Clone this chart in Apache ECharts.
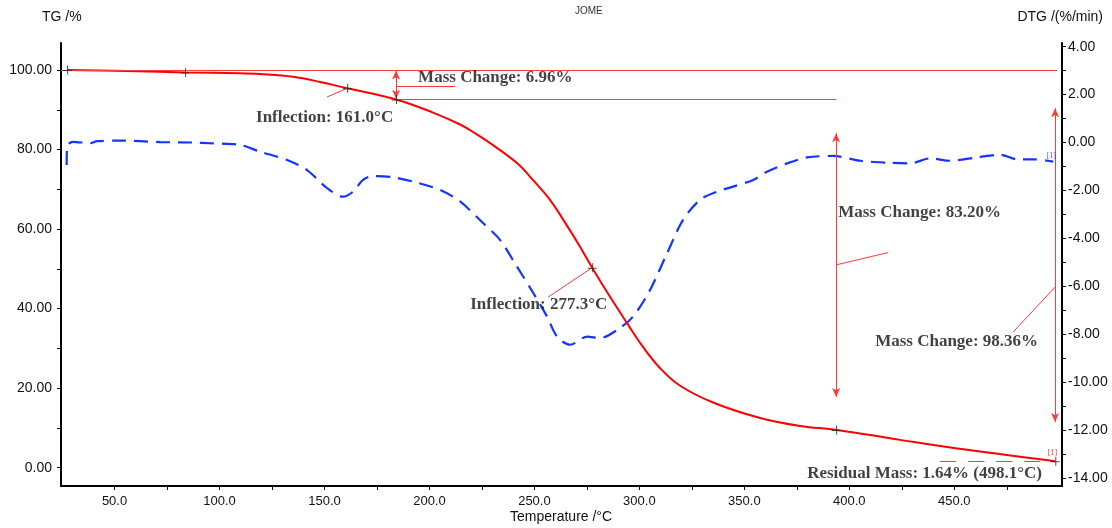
<!DOCTYPE html>
<html><head><meta charset="utf-8">
<script src="https://cdn.jsdelivr.net/npm/echarts@6/dist/echarts.min.js"></script>
<style>html,body{margin:0;padding:0;background:#fff}#c{width:1112px;height:528px}</style>
</head><body><div id="c"></div>
<script>
// ---- data ----
const tempTG = [27.4, 50.0, 83.6, 109.8, 119.3, 135.0, 147.9, 160.8, 184.1, 201.7, 214.6, 222.0, 230.3, 241.7, 249.4, 257.5, 265.6, 271.8, 277.5, 286.1, 294.2, 301.8, 309.9, 319.4, 335.1, 357.5, 376.6, 394.2, 424.2, 456.1, 498.1];
const massTG = [100.0, 99.8, 99.4, 99.2, 99.0, 98.3, 97.0, 95.4, 92.6, 89.3, 86.3, 84.0, 81.1, 76.6, 72.3, 67.3, 60.8, 55.5, 50.3, 42.9, 36.3, 30.3, 25.0, 20.6, 16.4, 12.5, 10.5, 9.5, 7.0, 4.5, 1.64];
const tempDTG = [27.2, 27.4, 30.2, 38.3, 41.7, 52.6, 71.7, 87.4, 95.5, 109.8, 119.3, 132.2, 141.7, 151.2, 158.8, 163.6, 168.4, 173.1, 182.7, 192.2, 205.1, 214.6, 225.5, 233.6, 241.7, 249.4, 256.0, 260.8, 267.0, 275.1, 281.3, 289.4, 297.0, 305.1, 313.2, 320.8, 328.9, 337.0, 344.6, 354.2, 360.8, 370.4, 379.9, 392.3, 405.2, 418.0, 429.0, 438.5, 448.0, 460.9, 471.9, 480.0, 487.6, 497.1];
const dtgValues = [-0.94, -0.15, 0.03, -0.03, 0.06, 0.08, 0.02, 0.0, -0.03, -0.1, -0.38, -0.73, -1.15, -1.9, -2.26, -2.05, -1.56, -1.40, -1.45, -1.63, -1.98, -2.46, -3.36, -4.06, -5.18, -6.27, -7.26, -8.1, -8.44, -8.1, -8.16, -7.82, -7.26, -6.15, -4.62, -3.23, -2.39, -2.05, -1.84, -1.56, -1.22, -0.87, -0.62, -0.56, -0.76, -0.84, -0.87, -0.66, -0.76, -0.62, -0.51, -0.70, -0.70, -0.80];
const markerT = [27.4, 83.6, 160.8, 184.1, 277.5, 393.7, 498.1];
const markerTG = [100.0, 99.4, 95.4, 92.6, 50.3, 9.5, 1.64];
const xLabelValues = [50, 100, 150, 200, 250, 300, 350, 400, 450];
const xTickValues = [50, 75, 100, 125, 150, 175, 200, 225, 250, 275, 300, 325, 350, 375, 400, 425, 450, 475];
const tgLabelValues = [0, 20, 40, 60, 80, 100];
const tgTickValues = [0, 10, 20, 30, 40, 50, 60, 70, 80, 90, 100];
const dtgLabelValues = [-14, -12, -10, -8, -6, -4, -2, 0, 2, 4];
const dtgTickValues = [-14, -13, -12, -11, -10, -9, -8, -7, -6, -5, -4, -3, -2, -1, 0, 1, 2, 3, 4];
const notes = [
  ['Mass Change: 6.96%', 194.6, 98.2],
  ['Inflection: 161.0°C', 117.4, 88.0],
  ['Inflection: 277.3°C', 219.4, 40.9],
  ['Mass Change: 83.20%', 394.7, 64.2],
  ['Mass Change: 98.36%', 412.3, 31.6],
  ['Residual Mass: 1.64% (498.1°C)', 379.9, -1.4]
];

const RED = '#ff0000', THIN = '#ff3a3a', BLUE = '#1634ff';
const seg = (a, b, arrowA, arrowB) => [
  { coord: a, symbol: arrowA ? 'arrow' : 'none', symbolSize: [6, 9] },
  { coord: b, symbol: arrowB ? 'arrow' : 'none', symbolSize: [6, 9] }
];
const chart = echarts.init(document.getElementById('c'), null, { renderer: 'canvas' });
const axisFont = { fontFamily: 'Liberation Sans, Arial, sans-serif', color: '#111' };
chart.setOption({
  animation: false,
  backgroundColor: '#fff',
  grid: { left: 61, right: 50, top: 43, bottom: 42 },
  xAxis: {
    type: 'value', min: 24.5, max: 501.3,
    axisLine: { show: true, onZero: false, lineStyle: { color: '#000', width: 2 } },
    axisTick: { show: true, inside: false, length: 4, customValues: xTickValues, lineStyle: { color: '#000', width: 1 } },
    axisLabel: { customValues: xLabelValues, formatter: v => v.toFixed(1), fontSize: 13, margin: 9, ...axisFont },
    splitLine: { show: false }
  },
  yAxis: [{
    type: 'value', position: 'left', min: -4.6, max: 106.79,
    axisLine: { show: true, onZero: false, lineStyle: { color: '#000', width: 2 } },
    axisTick: { show: true, inside: false, length: 4, customValues: tgTickValues, lineStyle: { color: '#000', width: 1 } },
    axisLabel: { customValues: tgLabelValues, formatter: v => v.toFixed(2), fontSize: 14, margin: 9, ...axisFont },
    splitLine: { show: false }
  }, {
    type: 'value', position: 'right', min: -14.334, max: 4.154,
    axisLine: { show: true, onZero: false, lineStyle: { color: '#000', width: 2 } },
    axisTick: { show: true, inside: false, length: 4, customValues: dtgTickValues, lineStyle: { color: '#000', width: 1 } },
    axisLabel: { customValues: dtgLabelValues, formatter: v => v.toFixed(2), fontSize: 14, margin: 6, ...axisFont },
    splitLine: { show: false }
  }],
  graphic: [
    { type: 'text', left: 42, top: 10, style: { text: 'TG /%', font: '14px Liberation Sans, Arial', fill: '#111' } },
    { type: 'text', right: 9, top: 10, style: { text: 'DTG /(%/min)', font: '14px Liberation Sans, Arial', fill: '#111' } },
    { type: 'text', left: 575, top: 6, style: { text: 'JOME', font: '10px Liberation Sans, Arial', fill: '#333' } },
    { type: 'text', left: 510, top: 510, style: { text: 'Temperature /°C', font: '14px Liberation Sans, Arial', fill: '#111' } }
  ],
  series: [{
    name: 'TG', type: 'line', yAxisIndex: 0, showSymbol: false, smooth: 0.4,
    data: tempTG.map((t, i) => [t, massTG[i]]),
    lineStyle: { color: RED, width: 2 }, itemStyle: { color: RED }, z: 3,
    markLine: {
      silent: true, symbol: ['none', 'none'], label: { show: false },
      lineStyle: { color: THIN, width: 1, type: 'solid' },
      emphasis: { disabled: true },
      data: [
        seg([24.5, 100.0], [499.0, 100.0]),
        seg([184.1, 92.6], [393.7, 92.6]),
        seg([184.1, 99.9], [184.1, 92.8], true, true),
        seg([184.1, 96.0], [212.2, 96.0]),
        seg([151.2, 93.2], [160.8, 95.4]),
        seg([256.5, 42.9], [277.5, 50.3]),
        seg([393.7, 84.1], [393.7, 17.8], true, true),
        seg([393.7, 51.0], [418.5, 54.1]),
        seg([498.0, 90.4], [498.0, 11.5], true, true),
        seg([498.0, 45.4], [478.0, 34.1]),
        [{ coord: [443.3, 1.7], symbol: 'none', lineStyle: { type: [16, 12] } }, { coord: [496.0, 1.7], symbol: 'none' }]
      ]
    }
  }, {
    name: 'DTG', type: 'line', yAxisIndex: 1, showSymbol: false, smooth: 0.3,
    data: tempDTG.map((t, i) => [t, dtgValues[i]]),
    lineStyle: { color: BLUE, width: 2.2, type: [14, 8] }, itemStyle: { color: BLUE }, z: 2
  }, {
    name: 'markers', type: 'scatter', yAxisIndex: 0, silent: true,
    symbol: 'path://M0,4.5 H9 V5.5 H0 Z M4.5,0 H5.5 V9 H4.5 Z', symbolSize: 9,
    itemStyle: { color: '#222' }, z: 5,
    data: markerT.map((t, i) => [t, markerTG[i]])
  }, {
    name: 'notes', type: 'scatter', yAxisIndex: 0, silent: true, symbolSize: 0, z: 6,
    data: notes.map(n => ({ value: [n[1], n[2]], name: n[0] })),
    label: {
      show: true, position: 'right', distance: 0, formatter: p => p.name,
      fontFamily: 'Liberation Serif, Times New Roman, serif', fontWeight: 'bold', fontSize: 17, color: '#111'
    }
  }, {
    name: 'tags', type: 'scatter', yAxisIndex: 0, silent: true, symbolSize: 0, z: 6,
    data: [
      { value: [494.5, 3.6], name: '[1]', label: { color: RED } },
      { value: [494.0, 78.4], name: '[1]', label: { color: BLUE } }
    ],
    label: { show: true, position: 'right', distance: 0, formatter: p => p.name, fontSize: 8, fontFamily: 'Liberation Serif, serif' }
  }]
});
</script>
</body></html>
